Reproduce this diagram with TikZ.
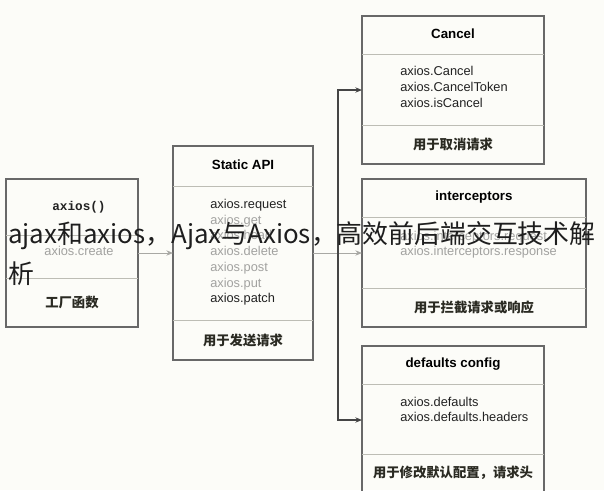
\documentclass[tikz,border=0pt]{standalone}
\usepackage{fontspec}
\setmainfont{Liberation Sans}
\newfontfamily\cjk{Noto Sans CJK SC}
\newfontfamily\monob{Liberation Mono}
\usetikzlibrary{arrows.meta}
\definecolor{bg}{HTML}{FCFCF8}
\definecolor{boxc}{HTML}{686868}
\definecolor{divc}{HTML}{BDBDB5}
\definecolor{itemdark}{HTML}{222222}
\definecolor{itemfaint}{HTML}{A2A2A0}
\definecolor{cjkc}{HTML}{2A2A22}
\definecolor{lightarr}{HTML}{A8A8A4}
\definecolor{darkarr}{HTML}{454545}
\definecolor{wmc}{HTML}{1E1E1E}
\tikzset{
  box/.style={draw=boxc, line width=0.9pt, inner sep=0pt, outer sep=0pt},
  divl/.style={draw=divc, line width=0.7pt},
  ttl/.style={font=\bfseries\fontsize{10}{12}\selectfont, text=black, inner sep=0pt},
  itm/.style={anchor=mid west, font=\fontsize{9.6}{11}\selectfont, text=itemdark, inner sep=0pt},
  itmf/.style={itm, text=itemfaint},
  cn/.style={font=\cjk\bfseries\fontsize{10}{12}\selectfont, text=cjkc, inner sep=0pt},
  connL/.style={draw=lightarr, line width=0.7pt, -{Stealth[length=5pt,width=4pt]}},
  connD/.style={draw=darkarr, line width=0.8pt, -{Stealth[length=5pt,width=4pt]}},
  wm/.style={font=\cjk\fontsize{19.4}{24}\selectfont, text=wmc, inner sep=0pt, anchor=base west}
}
\begin{document}
\begin{tikzpicture}[x=0.75pt,y=-0.75pt]
\useasboundingbox[fill=bg] (0,0) rectangle (604,490);
% boxes
\node[box, minimum width=99pt, minimum height=111pt] (axios) at (72,253) {};
\node[box, minimum width=105pt, minimum height=160.5pt] (static) at (243,253) {};
\node[box, minimum width=136.5pt, minimum height=111pt] (cancel) at (453,90) {};
\node[box, minimum width=168pt, minimum height=111pt] (inter) at (474,253) {};
\node[box, minimum width=136.5pt, minimum height=111pt] (defaults) at (453,420) {};
% dividers
\draw[divl] (6,235) -- (138,235);
\draw[divl] (6,278) -- (138,278);
\draw[divl] (173,186) -- (313,186);
\draw[divl] (173,320) -- (313,320);
\draw[divl] (362,54) -- (544,54);
\draw[divl] (362,125) -- (544,125);
\draw[divl] (362,217) -- (586,217);
\draw[divl] (362,288) -- (586,288);
\draw[divl] (362,384) -- (544,384);
\draw[divl] (362,454) -- (544,454);
% left box
\node[font=\monob\bfseries\fontsize{9.5}{11}\selectfont, text=itemdark, inner sep=0pt] (t1) at (79,207) {axios()};
\node[itmf, anchor=mid] (c1) at (79,252) {axios.create};
\node[cn] (b1) at (72,302) {工厂函数};
% static api
\node[ttl] (t2) at (243,165) {Static API};
\node[itm] (s1) at (210,205) {axios.request};
\node[itmf] (s2) at (210,221) {axios.get};
\node[itmf] (s3) at (210,236) {axios.head};
\node[itmf] (s4) at (210,252) {axios.delete};
\node[itmf] (s5) at (210,268) {axios.post};
\node[itmf] (s6) at (210,284) {axios.put};
\node[itm] (s7) at (210,299) {axios.patch};
\node[cn] (b2) at (243,340) {用于发送请求};
% cancel
\node[ttl] (t3) at (453,34) {Cancel};
\node[itm] (k1) at (400,72) {axios.Cancel};
\node[itm] (k2) at (400,88) {axios.CancelToken};
\node[itm] (k3) at (400,104) {axios.isCancel};
\node[cn] (b3) at (453,144) {用于取消请求};
% interceptors
\node[ttl] (t4) at (474,197) {interceptors};
\node[itmf] (i1) at (400,237) {axios.interceptors.request};
\node[itmf] (i2) at (400,252) {axios.interceptors.response};
\node[cn] (b4) at (474,307) {用于拦截请求或响应};
% defaults
\node[ttl] (t5) at (453,364) {defaults config};
\node[itm] (d1) at (400,403) {axios.defaults};
\node[itm] (d2) at (400,418) {axios.defaults.headers};
\node[cn] (b5) at (453,473) {用于修改默认配置，请求头};
% connectors
\coordinate (j) at (338,253);
\draw[connL] (axios.east) -- (static.west);
\draw[connL] (static.east) -- (inter.west);
\draw[connD] (j) |- (cancel.west);
\draw[connD] (j) |- (defaults.west);
% overlay text
\node[wm] (w1) at (8,243) {ajax和axios，Ajax与Axios，高效前后端交互技术解};
\node[wm] (w2) at (8,283) {析};
\end{tikzpicture}
\end{document}
